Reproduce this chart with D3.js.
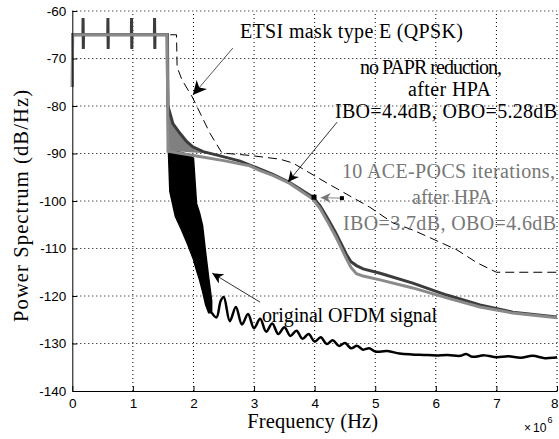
<!DOCTYPE html>
<html>
<head>
<meta charset="utf-8">
<script src="https://cdn.jsdelivr.net/npm/d3@7"></script>
<style>
  body { margin: 0; background: #fff; }
</style>
</head>
<body>
<div id="chart"></div>
<script>
// frequency axis is in units of 1e6 Hz, power in dB/Hz
var xTicks = [0, 1, 2, 3, 4, 5, 6, 7, 8];
var yTicks = [-140, -130, -120, -110, -100, -90, -80, -70, -60];

// ETSI spectrum mask, type E (QPSK)
var etsiMask = [[0, -65], [1.72, -65], [1.73, -71.8], [1.81, -74.5], [1.98, -78.1], [2.11, -81.5],
  [2.27, -85.7], [2.47, -89.9], [2.93, -90.4], [3.43, -91.2], [3.64, -92], [4.2, -96.2],
  [4.91, -101.3], [5.29, -104.6], [5.62, -106.1], [6.35, -110.3], [6.68, -113], [7.0, -115], [8, -115]];

// original OFDM signal: in-band part, dense out-of-band band, and tail
var origIn = [[0, -76], [0.005, -65], [1.575, -65], [1.585, -89]];
var origBandFreq = [1.585, 1.61, 1.7, 1.8, 1.9, 2.0, 2.05, 2.1, 2.15, 2.2, 2.25, 2.3];
var origBandHigh = [-89, -89.2, -89.5, -89.8, -90.2, -91, -100.5, -102.5, -105.2, -110.8, -116, -121];
var origBandLow = [-89, -98, -103.2, -106, -109, -112.3, -114.6, -116.6, -119, -121.8, -123.5, -123.5];
var origTail = [[2.3, -123.5], [2.38, -124.5], [2.45, -121], [2.5, -120.2], [2.6, -125.3], [2.7, -122.3],
  [2.8, -126], [2.9, -123.8], [3.0, -126.8], [3.1, -124.8], [3.2, -127.5], [3.3, -125.8], [3.4, -128],
  [3.5, -126.6], [3.6, -128.4], [3.7, -127.3], [3.8, -129], [3.9, -128], [4.0, -129.6], [4.1, -128.7],
  [4.2, -130.1], [4.3, -129.3], [4.4, -130.5], [4.5, -129.9], [4.6, -131], [4.7, -130.5], [4.8, -131.3],
  [4.9, -131], [5.0, -131.7], [5.2, -131.6], [5.4, -132.1], [5.6, -132.3], [5.8, -132.4], [6.0, -132.5],
  [6.2, -132.4], [6.4, -132.6], [6.5, -132.2], [6.6, -132.8], [6.8, -132.5], [7.0, -132.9], [7.2, -132.7],
  [7.4, -133], [7.6, -132.6], [7.8, -133.1], [8.0, -132.9]];

// no PAPR reduction, after HPA (dark grey), with its fast-varying wedge
var noPaprWedgeFreq = [1.575, 1.6, 1.66, 1.78, 1.89, 1.99, 2.16];
var noPaprWedgeHigh = [-75, -81, -83.7, -85.8, -87.5, -88.6, -89.6];
var noPaprWedgeLow = [-89.3, -89.4, -89.5, -89.6, -89.7, -89.8, -89.9];
var noPapr = [[0, -76], [0.005, -65], [0.175, -65], [0.178, -61.5], [0.182, -68], [0.185, -65],
  [0.585, -65], [0.588, -61.5], [0.592, -68], [0.595, -65], [0.975, -65], [0.978, -61.5], [0.982, -68],
  [0.985, -65], [1.355, -65], [1.358, -61.5], [1.362, -68], [1.365, -65], [1.565, -65], [1.575, -80],
  [1.6, -81], [1.66, -83.7], [1.78, -85.8], [1.89, -87.5], [1.99, -88.6], [2.16, -89.6], [2.44, -90.5],
  [2.77, -91.6], [3.1, -93.3], [3.31, -94.4], [3.59, -96.1], [3.81, -97.9], [3.97, -99.2], [4.09, -101],
  [4.22, -103.8], [4.34, -106.5], [4.45, -109.3], [4.53, -111.4], [4.6, -112.8], [4.69, -113.6],
  [4.8, -114.3], [5.08, -115.2], [5.62, -117.3], [6.18, -119.8], [6.73, -121.9], [7.27, -123.4], [8, -124.4]];

// 10 ACE-POCS iterations, after HPA (light grey)
var acePocs = [[0, -76], [0.005, -65], [1.565, -65], [1.58, -89.5], [1.8, -90], [2.0, -90.4], [2.5, -91.5],
  [2.93, -92.6], [3.1, -93.6], [3.31, -94.6], [3.59, -96.3], [3.81, -98.2], [3.97, -99.6], [4.09, -101.6],
  [4.22, -104.5], [4.34, -107.3], [4.45, -110.2], [4.53, -112.3], [4.6, -114], [4.69, -115.3],
  [4.8, -115.8], [5.08, -116.6], [5.62, -118.3], [6.18, -120.4], [6.73, -122.3], [7.27, -123.6], [8, -124.6]];

var w = 559, h = 439;
var margin = { top: 11, right: 2, bottom: 48, left: 72.3 };
var serif = "'Liberation Serif', 'Times New Roman', serif";
var sans = "'Liberation Sans', Arial, sans-serif";

var svg = d3.select("#chart").append("svg")
  .attr("width", w)
  .attr("height", h)
  .style("display", "block");

var x = d3.scaleLinear().domain([0, 8]).range([margin.left, w - margin.right]);
var y = d3.scaleLinear().domain([-140, -60]).range([h - margin.bottom, margin.top]);

// arrow heads
var defs = svg.append("defs");
function marker(id, color, size) {
  defs.append("marker")
    .attr("id", id)
    .attr("viewBox", "0 0 10 10")
    .attr("refX", 10).attr("refY", 5)
    .attr("markerWidth", size).attr("markerHeight", size)
    .attr("markerUnits", "userSpaceOnUse")
    .attr("orient", "auto")
    .append("path")
    .attr("d", "M0,0 L10,5 L0,10 L3,5 z")
    .attr("fill", color);
}
marker("headBig", "#000", 14);
marker("head", "#000", 11);
marker("headGrey", "#777", 10);

// dotted grid
var grid = svg.append("g");
grid.selectAll(".vg").data(xTicks.slice(1)).enter().append("line")
  .attr("x1", function(d) { return x(d); }).attr("x2", function(d) { return x(d); })
  .attr("y1", y(-140)).attr("y2", y(-60))
  .attr("stroke", "#000").attr("stroke-width", 1).attr("stroke-dasharray", "1,3");
grid.selectAll(".hg").data(yTicks.slice(1)).enter().append("line")
  .attr("x1", x(0)).attr("x2", x(8))
  .attr("y1", function(d) { return y(d); }).attr("y2", function(d) { return y(d); })
  .attr("stroke", "#000").attr("stroke-width", 1).attr("stroke-dasharray", "1,3");

var line = d3.line()
  .x(function(d) { return x(d[0]); })
  .y(function(d) { return y(d[1]); });
var smooth = d3.line()
  .curve(d3.curveCatmullRom)
  .x(function(d) { return x(d[0]); })
  .y(function(d) { return y(d[1]); });

function band(freq, hi, lo) {
  return freq.map(function(f, i) { return [f, hi[i], lo[i]]; });
}
var area = d3.area()
  .x(function(d) { return x(d[0]); })
  .y0(function(d) { return y(d[2]); })
  .y1(function(d) { return y(d[1]); });

// ETSI mask
svg.append("path").datum(etsiMask)
  .attr("fill", "none").attr("stroke", "#000").attr("stroke-width", 1)
  .attr("stroke-dasharray", "9,5").attr("d", line);

// original OFDM
svg.append("path").datum(band(origBandFreq, origBandHigh, origBandLow))
  .attr("fill", "#000").attr("stroke", "#000").attr("stroke-width", 1.5).attr("d", area);
svg.append("path").datum(origIn)
  .attr("fill", "none").attr("stroke", "#000").attr("stroke-width", 2.5).attr("d", line);
svg.append("path").datum(origTail)
  .attr("fill", "none").attr("stroke", "#000").attr("stroke-width", 2.5)
  .attr("stroke-linejoin", "round").attr("d", smooth);

// no PAPR reduction
svg.append("path").datum(band(noPaprWedgeFreq, noPaprWedgeHigh, noPaprWedgeLow))
  .attr("fill", "#808080").attr("d", area);
svg.append("path").datum(noPapr)
  .attr("fill", "none").attr("stroke", "#3c3c3c").attr("stroke-width", 3).attr("d", line);

// ACE-POCS
svg.append("path").datum(acePocs)
  .attr("fill", "none").attr("stroke", "#8a8a8a").attr("stroke-width", 3).attr("d", line);

// axes
var xAxis = d3.axisBottom(x).tickValues(xTicks).tickSizeInner(-5).tickSizeOuter(0).tickPadding(7)
  .tickFormat(function(d) { return String(d); });
var yAxis = d3.axisLeft(y).tickValues(yTicks).tickSizeInner(-5).tickSizeOuter(0).tickPadding(6)
  .tickFormat(function(d) { return String(d); });

var gx = svg.append("g").attr("transform", "translate(0," + y(-140) + ")").call(xAxis);
svg.append("g").attr("transform", "translate(" + x(0) + ",0)").call(yAxis);
svg.selectAll(".domain").attr("stroke", "#000");
svg.selectAll(".tick line").attr("stroke", "#000");
svg.selectAll(".tick text")
  .attr("fill", "#000")
  .style("font-family", sans)
  .style("font-size", "13.5px");
// last x label sits at the page edge, keep it inside
gx.selectAll(".tick text").filter(function(d) { return d === 8; })
  .attr("text-anchor", "end").attr("x", 1);

// axis titles
svg.append("text")
  .attr("x", x(4) - 2).attr("y", 428).attr("text-anchor", "middle")
  .attr("textLength", 131).attr("lengthAdjust", "spacing")
  .style("font-family", serif).style("font-size", "20.5px")
  .text("Frequency (Hz)");
svg.append("text")
  .attr("transform", "translate(28," + (y(-100) + 5) + ") rotate(-90)")
  .attr("text-anchor", "middle")
  .attr("textLength", 232).attr("lengthAdjust", "spacing")
  .style("font-family", serif).style("font-size", "20.5px")
  .text("Power Spectrum (dB/Hz)");
var mult = svg.append("text")
  .attr("x", 524).attr("y", 432)
  .style("font-family", sans).style("font-size", "12px");
mult.append("tspan").text("\u00d7");
mult.append("tspan").attr("dx", 2).text("10");
mult.append("tspan").attr("dy", -9).attr("dx", 1).style("font-size", "9px").text("6");

// annotation arrows, in data coordinates
var arrows = [
  { from: [2.65, -67.8], to: [1.99, -77.7], color: "#555", head: "headBig" },
  { from: [4.37, -83.4], to: [3.56, -96.0], color: "#333", head: "head" },
  { from: [4.45, -99.4], to: [4.1, -99.3], color: "#888", head: "headGrey" },
  { from: [3.1, -121.3], to: [2.31, -115.2], color: "#333", head: "head" }
];
svg.selectAll(".arrow").data(arrows).enter().append("line")
  .attr("x1", function(d) { return x(d.from[0]); })
  .attr("y1", function(d) { return y(d.from[1]); })
  .attr("x2", function(d) { return x(d.to[0]); })
  .attr("y2", function(d) { return y(d.to[1]); })
  .attr("stroke", function(d) { return d.color; })
  .attr("stroke-width", 1)
  .attr("marker-end", function(d) { return "url(#" + d.head + ")"; });

// end squares of the ACE-POCS arrow
var squares = [[4.45, -99.4, 4], [3.99, -99.2, 5]];
svg.selectAll(".sq").data(squares).enter().append("rect")
  .attr("x", function(d) { return x(d[0]) - d[2] / 2; })
  .attr("y", function(d) { return y(d[1]) - d[2] / 2; })
  .attr("width", function(d) { return d[2]; })
  .attr("height", function(d) { return d[2]; })
  .attr("fill", "#000");

// text labels
var notes = [
  { t: "ETSI mask type E (QPSK)", x: 240, y: 38, len: 223, c: "#000" },
  { t: "no PAPR reduction,", x: 360, y: 74, len: 142, c: "#000" },
  { t: "after HPA", x: 408, y: 96, len: 83, c: "#000" },
  { t: "IBO=4.4dB, OBO=5.28dB", x: 335, y: 118, len: 222, c: "#000" },
  { t: "10 ACE-POCS iterations,", x: 342, y: 178, len: 213, c: "#777" },
  { t: "after HPA", x: 412, y: 204, len: 80, c: "#777" },
  { t: "IBO=3.7dB, OBO=4.6dB", x: 343, y: 230, len: 213, c: "#777" },
  { t: "original OFDM signal", x: 262, y: 322, len: 175, c: "#000" }
];
svg.selectAll(".lbl").data(notes).enter().append("text")
  .attr("x", function(d) { return d.x; })
  .attr("y", function(d) { return d.y; })
  .attr("textLength", function(d) { return d.len; })
  .attr("lengthAdjust", "spacing")
  .attr("fill", function(d) { return d.c; })
  .style("font-family", serif)
  .style("font-size", "20px")
  .text(function(d) { return d.t; });
</script>
</body>
</html>
